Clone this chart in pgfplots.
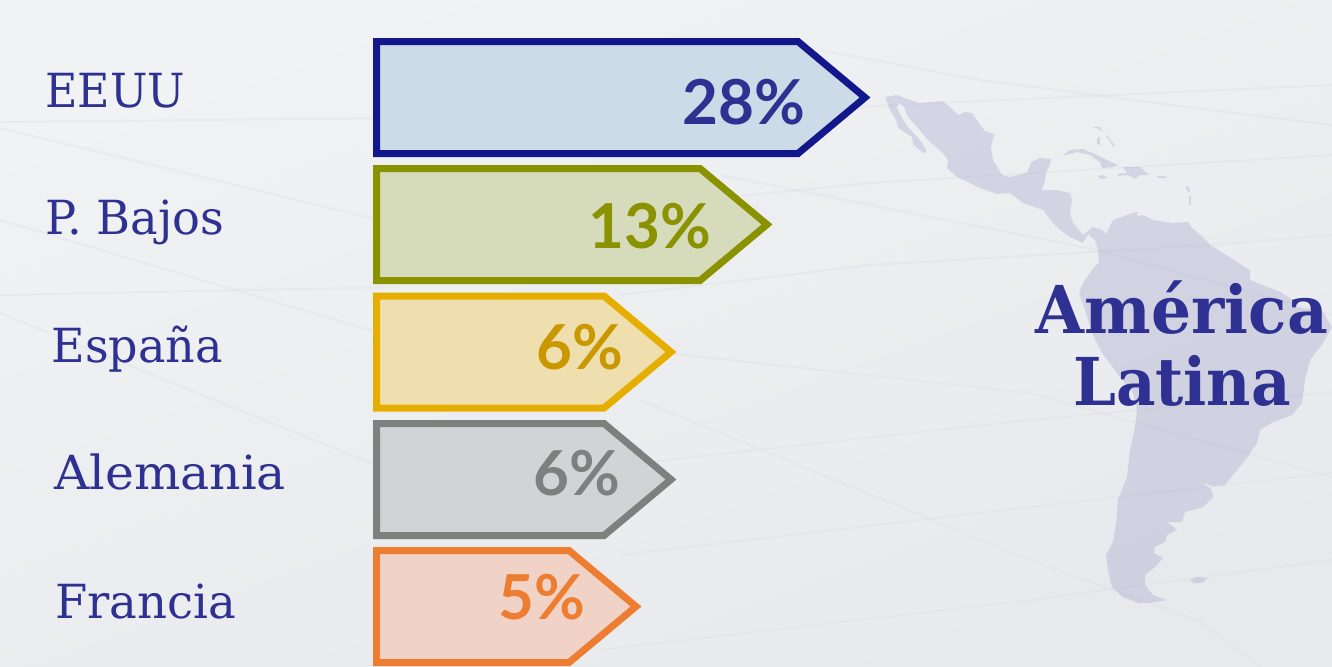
\documentclass[border=0pt]{standalone}
\usepackage{fontspec}
\usepackage{pgfplots}
\pgfplotsset{compat=1.18}
\setmainfont{DejaVu Serif}
\newfontfamily\valfont{Lato}
\definecolor{ink}{HTML}{2E3192}
\definecolor{bgA}{HTML}{F1F2F3}
\definecolor{bgB}{HTML}{E8E9ED}
\definecolor{wave}{HTML}{DFE0E6}
\definecolor{sA}{HTML}{13178C}\definecolor{fA}{HTML}{CDDAE7}
\definecolor{sB}{HTML}{8B9200}\definecolor{fB}{HTML}{D6DBBB}
\definecolor{sC}{HTML}{E5AE00}\definecolor{fC}{HTML}{F0DFAE}\definecolor{tC}{HTML}{C99800}
\definecolor{sD}{HTML}{7F7F7F}\definecolor{fD}{HTML}{D2D3D6}
\definecolor{sE}{HTML}{ED7D31}\definecolor{fE}{HTML}{F0D3C6}
\tikzset{
  barshape/.style={line width=3.5pt, line join=miter},
  land/.style={draw=none, fill=ink, fill opacity=0.135},
  catlabel/.style={anchor=base west, inner sep=0pt, text=ink, transform shape, font=\fontsize{23.5}{28}\selectfont},
  vallabel/.style={anchor=base east, inner sep=0pt, font=\fontsize{31}{36}\selectfont\valfont\bfseries},
  region/.style={anchor=base, inner sep=0pt, text=ink, transform shape, font=\fontsize{33}{36}\selectfont\bfseries},
}
\begin{document}
\begin{tikzpicture}
\begin{axis}[
  width=666pt, height=333pt, scale only axis,
  xmin=0, xmax=1332, ymin=0, ymax=666, y dir=reverse,
  axis lines=none, clip=true, no markers,
]
% background
\path[top color=bgA, bottom color=bgB, shading angle=20] (axis cs:0,0) rectangle (axis cs:1332,666);
% faint background streaks
\begin{scope}[draw=wave, line width=1pt, opacity=0.4]
\draw (axis cs:0,128) -- (axis cs:400,225);
\draw (axis cs:0,220) -- (axis cs:400,339);
\draw (axis cs:0,313) -- (axis cs:400,475);
\draw (axis cs:0,122) -- (axis cs:400,118);
\draw (axis cs:0,295) -- (axis cs:400,287);
\draw (axis cs:700,115) -- (axis cs:937,103) -- (axis cs:1332,85);
\draw (axis cs:700,200) -- (axis cs:870,183) -- (axis cs:1332,155);
\draw (axis cs:620,295) -- (axis cs:870,265) -- (axis cs:1210,245) -- (axis cs:1332,235);
\draw (axis cs:620,465) -- (axis cs:1030,420) -- (axis cs:1332,392);
\draw (axis cs:620,555) -- (axis cs:1030,507) -- (axis cs:1332,473);
\draw (axis cs:600,650) -- (axis cs:1030,600) -- (axis cs:1332,560);
\draw (axis cs:720,175) -- (axis cs:870,205) -- (axis cs:1097,250) -- (axis cs:1332,315);
\draw (axis cs:640,350) -- (axis cs:1030,393) -- (axis cs:1332,477);
\draw (axis cs:820,50) -- (axis cs:980,80) -- (axis cs:1210,110) -- (axis cs:1332,125);
\draw (axis cs:640,400) -- (axis cs:1030,560) -- (axis cs:1197,620) -- (axis cs:1260,666);
\end{scope}
% map
\addplot[land] coordinates {
 (885,97)(897,95)(907,99)(920,103)(933,102)(942,101)(950,107)(958,115)(965,112)(972,113)(978,122)(985,131)(994,134)
 (991,148)(993,160)(1002,175)(1010,177)(1027,173)(1031,162)(1040,158)(1051,159)(1050,165)(1046,172)(1045,180)(1042,190)
 (1057,190)(1070,193)(1072,200)(1070,213)(1073,223)(1083,235)(1093,227)(1102,230)(1106,234)(1113,220)(1133,213)(1138,212)
 (1137,216)(1143,215)(1153,220)(1172,223)(1188,222)(1192,228)(1203,237)(1210,245)(1250,270)(1250,280)(1263,285)(1280,292)
 (1293,300)(1297,307)(1323,312)(1332,327)(1323,343)(1310,360)(1305,380)(1302,403)(1292,415)(1273,422)(1260,430)(1257,443)
 (1247,458)(1237,470)(1225,485)(1213,486)(1203,483)(1212,490)(1213,497)(1203,507)(1185,512)(1182,522)(1167,522)(1177,530)
 (1167,535)(1165,542)(1155,547)(1154,553)(1163,558)(1155,567)(1145,575)(1145,585)(1153,595)(1166,600)(1150,603)(1138,603)
 (1123,597)(1112,587)(1108,570)(1106,555)(1113,542)(1116,523)(1118,500)(1127,477)(1130,450)(1135,427)(1137,410)(1133,393)
 (1120,377)(1102,353)(1092,333)(1085,310)(1079,293)(1083,283)(1092,270)(1099,262)(1098,250)(1095,240)(1088,234)(1083,243)
 (1070,237)(1060,230)(1053,223)(1043,210)(1023,203)(1010,193)(997,194)(980,188)(957,177)(947,168)(948,160)(942,152)
 (927,139)(917,127)(908,117)(903,105)(898,103)(897,108)(902,118)(908,127)(920,140)(927,151)(923,153)(913,144)(912,137)
 (898,128)(896,120)(890,110)
} -- cycle;
% islands
\addplot[land] coordinates {(1062,156)(1070,150)(1083,149)(1097,155)(1107,160)(1118,165)(1113,167)(1102,168)(1100,162)(1090,155)(1077,152)} -- cycle;
\addplot[land] coordinates {(1123,167)(1140,167)(1149,175)(1140,175)(1135,179)(1128,175)(1118,176)(1118,174)(1127,173)} -- cycle;
\addplot[land] coordinates {(1097,176)(1103,175)(1108,178)(1102,179)} -- cycle;
\addplot[land] coordinates {(1156,176)(1165,176)(1167,178)(1158,178)} -- cycle;
\addplot[land] coordinates {(1097,138)(1100,137)(1100,145)(1097,144)} -- cycle;
\addplot[land] coordinates {(1092,127)(1100,127)(1103,132)(1099,129)} -- cycle;
\addplot[land] coordinates {(1107,135)(1115,146)(1114,147)(1106,136)} -- cycle;
\addplot[land] coordinates {(1186,186)(1189,187)(1190,192)(1187,191)} -- cycle;
\addplot[land] coordinates {(1189,196)(1191,196)(1191,205)(1189,205)} -- cycle;
\addplot[land] coordinates {(1190,580)(1197,577)(1208,578)(1202,583)(1193,583)} -- cycle;
% arrows
\addplot[barshape, draw=sA, fill=fA] coordinates {(376.5,41.5)(798,41.5)(865,97.5)(798,153.5)(376.5,153.5)} -- cycle;
\addplot[barshape, draw=sB, fill=fB] coordinates {(376.5,168.5)(700,168.5)(767,224.5)(700,280.5)(376.5,280.5)} -- cycle;
\addplot[barshape, draw=sC, fill=fC] coordinates {(376.5,296)(604,296)(671,352)(604,408)(376.5,408)} -- cycle;
\addplot[barshape, draw=sD, fill=fD] coordinates {(376.5,423.5)(604,423.5)(671,479.5)(604,535.5)(376.5,535.5)} -- cycle;
\addplot[barshape, draw=sE, fill=fE] coordinates {(376.5,550.5)(569,550.5)(636,606.5)(569,662.5)(376.5,662.5)} -- cycle;
% values
\node[vallabel, text=ink] at (axis cs:806,124) {28\%};
\node[vallabel, text=sB] at (axis cs:712,248) {13\%};
\node[vallabel, text=tC] at (axis cs:624,369) {6\%};
\node[vallabel, text=sD] at (axis cs:621,495) {6\%};
\node[vallabel, text=sE] at (axis cs:586,619) {5\%};
% categories
\node[catlabel, xscale=0.945] at (axis cs:45,107) {EEUU};
\node[catlabel, xscale=0.985] at (axis cs:45,234) {P. Bajos};
\node[catlabel, xscale=0.98] at (axis cs:51,362) {España};
\node[catlabel, xscale=1.04] at (axis cs:54,489) {Alemania};
\node[catlabel, xscale=0.99] at (axis cs:55,618) {Francia};
% region title
\node[region, xscale=0.955] at (axis cs:1182,333) {América};
\node[region, xscale=0.925] at (axis cs:1182,405) {Latina};
\end{axis}
\end{tikzpicture}
\end{document}
